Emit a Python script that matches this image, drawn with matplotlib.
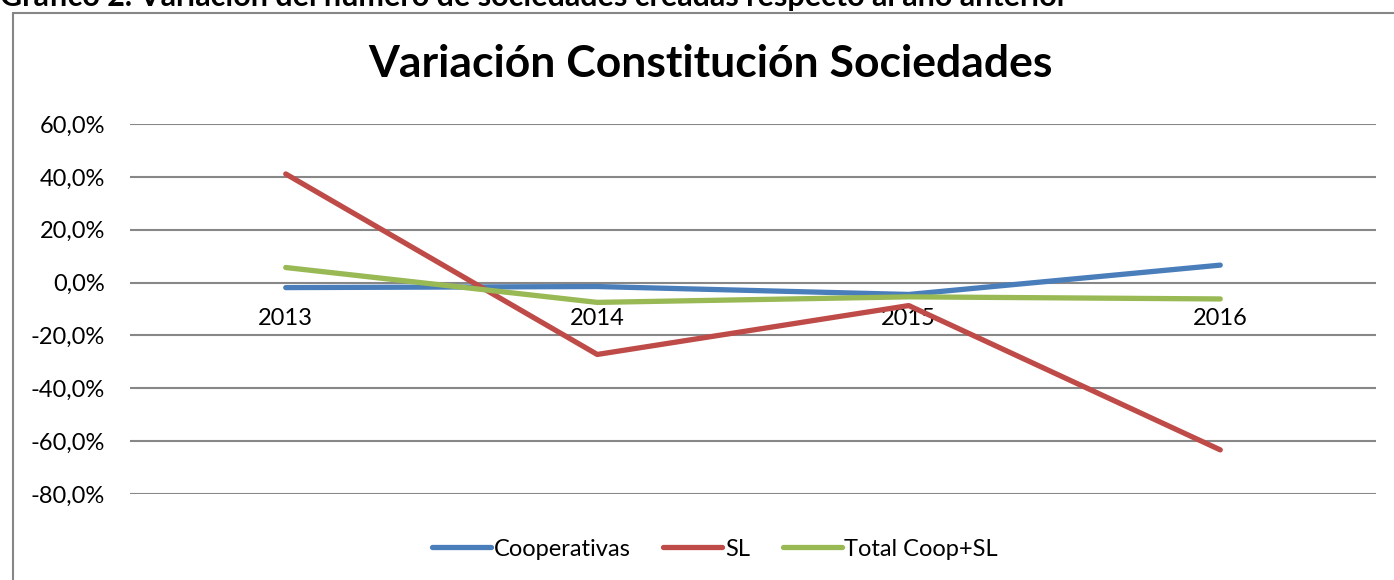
import matplotlib
matplotlib.use("Agg")
import matplotlib.pyplot as plt
from matplotlib.patches import Rectangle
from matplotlib.ticker import FuncFormatter

# Data (variation vs previous year, %)
years = ["2013", "2014", "2015", "2016"]
cooperativas = [-1.9, -1.5, -4.5, 6.6]
sl = [41.1, -27.2, -8.7, -63.3]
total = [5.7, -7.5, -5.4, -6.2]

series_names = ["Cooperativas", "SL", "Total Coop+SL"]
series_colors = ["#4a7ebb", "#be4b48", "#98b954"]

plt.rcParams["font.family"] = ["Lato", "DejaVu Sans"]

W, H = 1394, 580
fig = plt.figure(figsize=(W / 100, H / 100), dpi=100)

# chart-area border (continues off the right and bottom edges)
fig.patches.append(Rectangle((13 / W, -0.1), 1.2, 1 - 13 / H + 0.1,
                             transform=fig.transFigure, fill=False,
                             edgecolor="#868686", linewidth=1.5))

# caption above the chart, partly cut off by the top of the image
fig.text(0.0, 1 - 6 / H,
         "Gráfico 2. Variación del número de sociedades creadas respecto al año anterior",
         ha="left", va="baseline", fontsize=22, fontweight="bold")

ax = fig.add_axes([130 / W, 86 / H, 1246 / W, 370 / H])
x = range(len(years))
for vals, name, col in zip([cooperativas, sl, total], series_names, series_colors):
    ax.plot(x, vals, color=col, linewidth=3.8, label=name, solid_capstyle="round")

ax.set_xlim(-0.5, len(years) - 0.5)
ax.set_ylim(-80, 60)
ax.set_yticks(range(-80, 61, 20))
ax.yaxis.set_major_formatter(FuncFormatter(lambda v, p: f"{v:.1f}%".replace(".", ",")))
ax.grid(axis="y", color="#878787", linewidth=1.5)
ax.set_axisbelow(True)
for s in ax.spines.values():
    s.set_visible(False)
ax.spines["bottom"].set_position(("data", 0))
ax.set_xticks(list(x))
ax.set_xticklabels(years)
ax.tick_params(axis="both", length=0, labelsize=17)
ax.tick_params(axis="x", pad=18)
ax.tick_params(axis="y", pad=18)

fig.text(710 / W, 1 - 64 / H, "Variación Constitución Sociedades",
         ha="center", va="center", fontsize=32, fontweight="bold")

fig.legend(loc="center", bbox_to_anchor=(715 / W, 1 - 549 / H), ncol=3,
           frameon=False, fontsize=17, handlelength=2.5, handletextpad=0.1,
           columnspacing=1.4)

fig.savefig("out.png", dpi=100)
